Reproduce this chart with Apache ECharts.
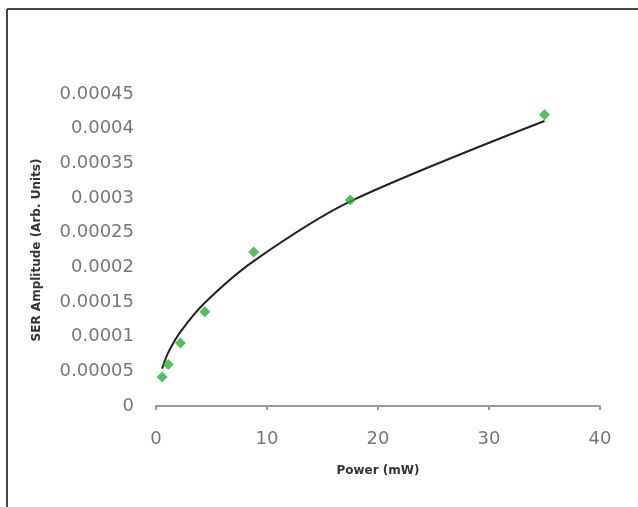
<!DOCTYPE html>
<html><head><meta charset="utf-8">
<script src="https://cdn.jsdelivr.net/npm/echarts@6/dist/echarts.min.js"></script>
<style>html,body{margin:0;padding:0;background:#fff}#c{width:638px;height:507px}</style>
</head><body><div id="c"></div>
<script>
const powerMW = [0.55, 1.1, 2.2, 4.4, 8.8, 17.5, 35];
const serAmplitude = [0.000042, 0.00006, 0.000091, 0.000136, 0.000222, 0.000297, 0.00042];
const trendValues = [0.000054, 0.000077, 0.000107, 0.000149, 0.000209, 0.000295, 0.000411];
const xAxisTitle = 'Power (mW)';
const yAxisTitle = 'SER Amplitude (Arb. Units)';

const chart = echarts.init(document.getElementById('c'), null, {renderer: 'canvas'});
chart.setOption({
  animation: false,
  backgroundColor: '#fff',
  grid: {left: 156, right: 38, top: 94, bottom: 101},
  graphic: [
    {type: 'line', shape: {x1: 7, y1: 9, x2: 638, y2: 9}, style: {stroke: '#444', lineWidth: 2}},
    {type: 'line', shape: {x1: 7, y1: 9, x2: 7, y2: 507}, style: {stroke: '#444', lineWidth: 2}}
  ],
  xAxis: {
    type: 'value', min: 0, max: 40, interval: 10,
    name: xAxisTitle, nameLocation: 'middle', nameGap: 59,
    nameTextStyle: {fontFamily: 'DejaVu Sans', fontWeight: 'bold', fontSize: 12, color: '#333'},
    axisLine: {show: true, lineStyle: {color: '#999', width: 2}},
    axisTick: {show: true, length: 4, lineStyle: {color: '#999', width: 2}},
    axisLabel: {margin: 24, fontFamily: 'DejaVu Sans', fontSize: 18, color: '#777'},
    splitLine: {show: false}
  },
  yAxis: {
    type: 'value', min: 0, max: 0.00045, interval: 0.00005,
    name: yAxisTitle, nameLocation: 'middle', nameGap: 113, nameRotate: 90,
    nameTextStyle: {fontFamily: 'DejaVu Sans', fontWeight: 'bold', fontSize: 12, color: '#333'},
    axisLine: {show: false}, axisTick: {show: false},
    axisLabel: {margin: 22, fontFamily: 'DejaVu Sans', fontSize: 18, color: '#777',
      formatter: v => v === 0 ? '0' : parseFloat(v.toPrecision(6)).toString()},
    splitLine: {show: false}
  },
  series: [
    {
      type: 'line', data: powerMW.map((x, i) => [x, trendValues[i]]),
      smooth: 0.3, showSymbol: false, symbol: 'none',
      lineStyle: {color: '#222', width: 2}, z: 2
    },
    {
      type: 'scatter', data: powerMW.map((x, i) => [x, serAmplitude[i]]),
      symbol: 'diamond', symbolSize: 11,
      itemStyle: {color: '#25b035'}, z: 3
    }
  ]
});
</script></body></html>
